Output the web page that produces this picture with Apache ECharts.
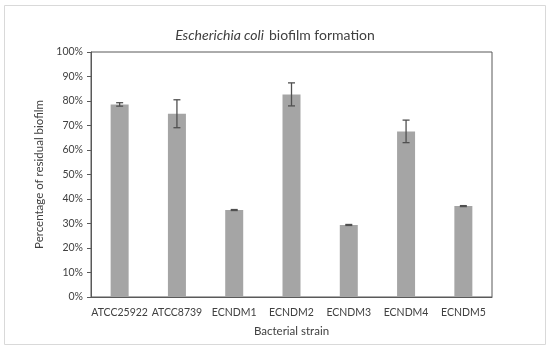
<!DOCTYPE html>
<html><head><meta charset="utf-8">
<script src="https://cdn.jsdelivr.net/npm/echarts@6/dist/echarts.min.js"></script>
<style>html,body{margin:0;padding:0;background:#fff}#c{width:550px;height:350px}</style>
</head><body><div id="c"></div>
<script>
const categories = ['ATCC25922','ATCC8739','ECNDM1','ECNDM2','ECNDM3','ECNDM4','ECNDM5'];
const values = [78.6, 74.8, 35.5, 82.7, 29.4, 67.6, 37.1];
const errors = [0.7, 5.7, 0.2, 4.7, 0.2, 4.6, 0.2];
const yTicks = [0,10,20,30,40,50,60,70,80,90,100];

const font = 'Lato, "Open Sans", "Liberation Sans", sans-serif';
const chart = echarts.init(document.getElementById('c'), null, {renderer:'canvas'});
const errData = values.map((v,i)=>[i, v-errors[i], v+errors[i]]);
chart.setOption({
  animation:false,
  graphic:[{type:'rect', shape:{x:4.5,y:5.5,width:541,height:339}, style:{fill:'none', stroke:'#d9d9d9', lineWidth:1}, silent:true}],
  title:{
    text:'{i|Escherichia coli} {n|biofilm formation}',
    left:'center', top:21,
    textStyle:{fontWeight:'normal', rich:{
      i:{fontFamily:font, fontSize:14, fontStyle:'italic', fontWeight:'normal', color:'#404040'},
      n:{fontFamily:font, fontSize:14, fontWeight:'normal', color:'#404040'}
    }}
  },
  grid:{left:91, right:58, top:52, bottom:53, show:true, borderColor:'#595959', borderWidth:1},
  xAxis:{
    type:'category', data:categories,
    axisLine:{lineStyle:{color:'#595959'}}, axisTick:{show:false},
    axisLabel:{color:'#404040', fontFamily:font, fontSize:10.5, margin:10, interval:0},
    name:'Bacterial strain', nameLocation:'middle', nameGap:28,
    nameTextStyle:{color:'#404040', fontFamily:font, fontSize:11.5}
  },
  yAxis:{
    type:'value', min:0, max:100, interval:10,
    axisLine:{show:true, lineStyle:{color:'#595959'}},
    axisTick:{show:true, length:4, lineStyle:{color:'#595959'}},
    splitLine:{show:false},
    axisLabel:{color:'#404040', fontFamily:font, fontSize:10.5, margin:8, formatter:v=>v+'%'},
    name:'Percentage of residual biofilm', nameLocation:'middle', nameGap:34,
    nameTextStyle:{color:'#404040', fontFamily:font, fontSize:11.5}
  },
  series:[
    {type:'bar', data:values, barWidth:18, itemStyle:{color:'#a5a5a5'}, silent:true},
    {type:'custom', data:errData, z:10, silent:true,
     renderItem:function(params, api){
       const x = api.value(0);
       const lo = api.coord([x, api.value(1)]);
       const hi = api.coord([x, api.value(2)]);
       const hw = 3.5;
       const st = {stroke:'#505050', lineWidth:1.3, fill:'none'};
       return {type:'group', children:[
         {type:'line', shape:{x1:hi[0],y1:hi[1],x2:lo[0],y2:lo[1]}, style:st},
         {type:'line', shape:{x1:hi[0]-hw,y1:hi[1],x2:hi[0]+hw,y2:hi[1]}, style:st},
         {type:'line', shape:{x1:lo[0]-hw,y1:lo[1],x2:lo[0]+hw,y2:lo[1]}, style:st}
       ]};
     }}
  ]
});
</script></body></html>
